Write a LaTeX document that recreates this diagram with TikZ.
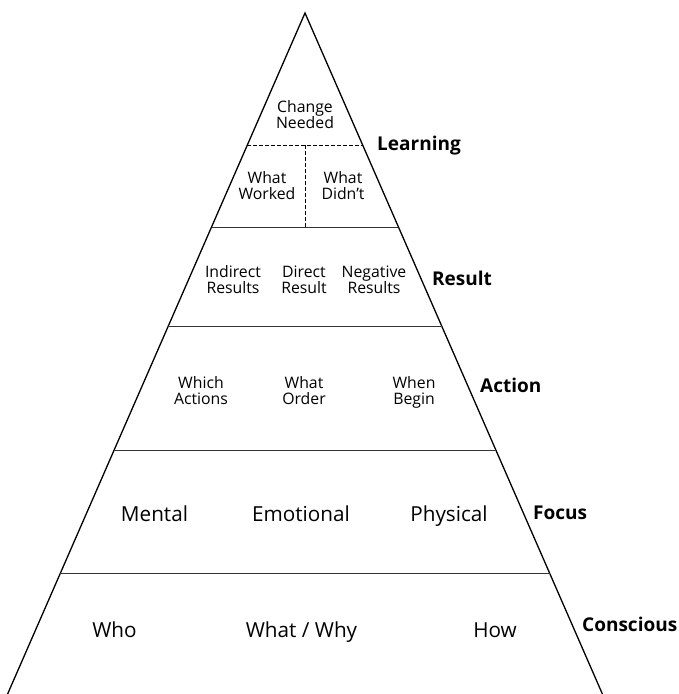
\documentclass[tikz,border=0pt]{standalone}
\usepackage{fontspec}
\setmainfont{Open Sans}
\usetikzlibrary{calc}
\begin{document}
\begin{tikzpicture}[x=1pt,y=-1pt,
  side/.style={line width=1.3pt,line join=miter},
  tier/.style={line width=1pt,draw=black!80},
  divider/.style={line width=0.9pt,dash pattern=on 3.5pt off 2.5pt},
  small/.style={align=center,font=\fontsize{15.8}{16.3}\selectfont,inner sep=0pt,anchor=base},
  big/.style={font=\fontsize{20.7}{24}\selectfont,inner sep=0pt,anchor=base},
  level/.style={font=\fontsize{19}{22}\selectfont\bfseries,inner sep=0pt,anchor=base west}]
\useasboundingbox (0,0) rectangle (679,694);
\coordinate (apex) at (305,13);
\coordinate (bl) at (7.6,694);
\coordinate (br) at (602.4,694);
\draw[side] (bl) -- (apex) -- (br);
% tier separators
\foreach \y/\n in {227/a,327/b,451/c,573/d}{
  \pgfmathsetmacro{\t}{(\y-13)/681}
  \coordinate (L\n) at ($(apex)!\t!(bl)$);
  \coordinate (R\n) at ($(apex)!\t!(br)$);
  \draw[tier] (L\n) -- (R\n);
}
\pgfmathsetmacro{\t}{(145-13)/681}
\coordinate (Ldash) at ($(apex)!\t!(bl)$);
\coordinate (Rdash) at ($(apex)!\t!(br)$);
\coordinate (Mdash) at (305.5,145);
\coordinate (Mline) at (305.5,227);
\draw[divider] (Ldash) -- (Rdash);
\draw[divider] (Mdash) -- (Mline);
% learning
\node[small] (chg) at (305,128.3) {Change\\Needed};
\node[small] (wk) at (267,199.3) {What\\Worked};
\node[small] (wd) at (343,199.3) {What\\Didn’t};
\node[level] (learn) at (377,150) {Learning};
% result
\node[small] (ir) at (233,293.3) {Indirect\\Results};
\node[small] (dr) at (304,293.3) {Direct\\Result};
\node[small] (nr) at (374,293.3) {Negative\\Results};
\node[level] (res) at (432,285) {Result};
% action
\node[small] (wa) at (201,404.3) {Which\\Actions};
\node[small] (wo) at (304,404.3) {What\\Order};
\node[small] (wb) at (414,404.3) {When\\Begin};
\node[level] (act) at (480,392) {Action};
% focus
\node[big] (men) at (154.5,521) {Mental};
\node[big] (emo) at (301,521) {Emotional};
\node[big] (phy) at (449,521) {Physical};
\node[level] (foc) at (533,519) {Focus};
% conscious
\node[big] (who) at (114.5,637) {Who};
\node[big] (ww) at (301.5,637) {What / Why};
\node[big] (how) at (495,637) {How};
\node[level] (con) at (582,631) {Conscious};
\end{tikzpicture}
\end{document}
